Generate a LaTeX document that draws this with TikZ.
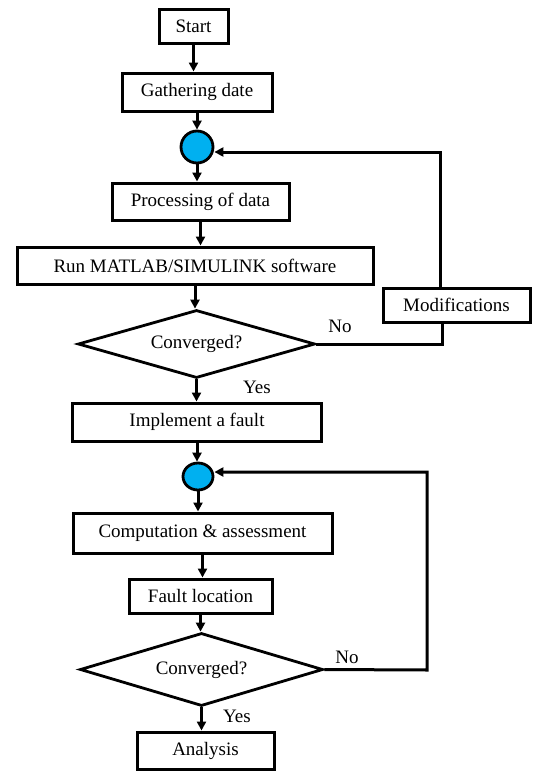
\documentclass[tikz,border=0pt]{standalone}
\usepackage{fontspec}
\setmainfont{Liberation Serif}
\usetikzlibrary{shapes.geometric,arrows.meta}
\definecolor{dotblue}{HTML}{00B0F0}
\begin{document}
\begin{tikzpicture}[x=1pt,y=-1pt,
  box/.style={draw,line width=3pt,rectangle,inner sep=0pt,font=\fontsize{19}{22}\selectfont},
  dec/.style={draw,line width=2.8pt,diamond,inner sep=0pt,font=\fontsize{19}{22}\selectfont},
  dot/.style={draw,line width=2.8pt,ellipse,fill=dotblue,inner sep=0pt},
  lbl/.style={font=\fontsize{19}{22}\selectfont,inner sep=0pt},
  arr/.style={line width=3pt,-{Triangle[length=9pt,width=9pt]}},
  ln/.style={line width=3pt}]
\useasboundingbox (0,0) rectangle (535,771);
\node[box,minimum width=69pt,minimum height=34pt] (start) at (193.5,26) {Start};
\node[box,minimum width=150pt,minimum height=38pt] (gather) at (197,92) {Gathering date};
\node[dot,minimum width=32pt,minimum height=32pt] (c1) at (197,147) {};
\node[box,minimum width=177pt,minimum height=37pt] (proc) at (200.5,201.5) {Processing of data};
\node[box,minimum width=356pt,minimum height=37pt] (run) at (195,265.5) {Run MATLAB/SIMULINK software};
\node[dec,aspect=3.5,minimum width=237pt,minimum height=68pt] (d1) at (196.5,344) {Converged?};
\node[box,minimum width=147pt,minimum height=34pt] (mod) at (456.5,305) {Modifications};
\node[box,minimum width=249pt,minimum height=38pt] (impl) at (197,422) {Implement a fault};
\node[dot,minimum width=30pt,minimum height=27pt] (c2) at (198,476.5) {};
\node[box,minimum width=259pt,minimum height=40pt] (comp) at (202.5,533) {Computation \& assessment};
\node[box,minimum width=143pt,minimum height=34pt] (fault) at (200.5,596) {Fault location};
\node[dec,aspect=3.33,minimum width=243pt,minimum height=73pt] (d2) at (201.5,669.5) {Converged?};
\node[box,minimum width=137pt,minimum height=37pt] (anal) at (205.5,750.5) {Analysis};
\node[lbl] (no1) at (340,326) {No};
\node[lbl] (yes1) at (257,387) {Yes};
\node[lbl] (no2) at (347,657) {No};
\node[lbl] (yes2) at (237,716) {Yes};
\coordinate (r1) at (442,344);
\coordinate (t1) at (440,152);
\coordinate (r2) at (427,670);
\coordinate (t2) at (427,472);
\draw[arr] (start.south) -- (start.south |- gather.north);
\draw[arr] (gather.south) -- (gather.south |- c1.north);
\draw[arr] (c1.south) -- (c1.south |- proc.north);
\draw[arr] (proc.south) -- (proc.south |- run.north);
\draw[arr] (run.south) -- (run.south |- d1.north);
\draw[arr] (d1.south) -- (d1.south |- impl.north);
\draw[arr] (impl.south) -- (impl.south |- c2.north);
\draw[arr] (c2.south) -- (c2.south |- comp.north);
\draw[arr] (comp.south) -- (comp.south |- fault.north);
\draw[arr] (fault.south) -- (fault.south |- d2.north);
\draw[arr] (d2.south) -- (d2.south |- anal.north);
\draw[ln] (d1.east) -- (r1) -- (r1 |- mod.south);
\draw[arr] (t1 |- mod.north) -- (t1) -- (c1.east |- t1);
\draw[arr] (d2.east) -- (r2) -- (t2) -- (c2.east |- t2);
\end{tikzpicture}
\end{document}
